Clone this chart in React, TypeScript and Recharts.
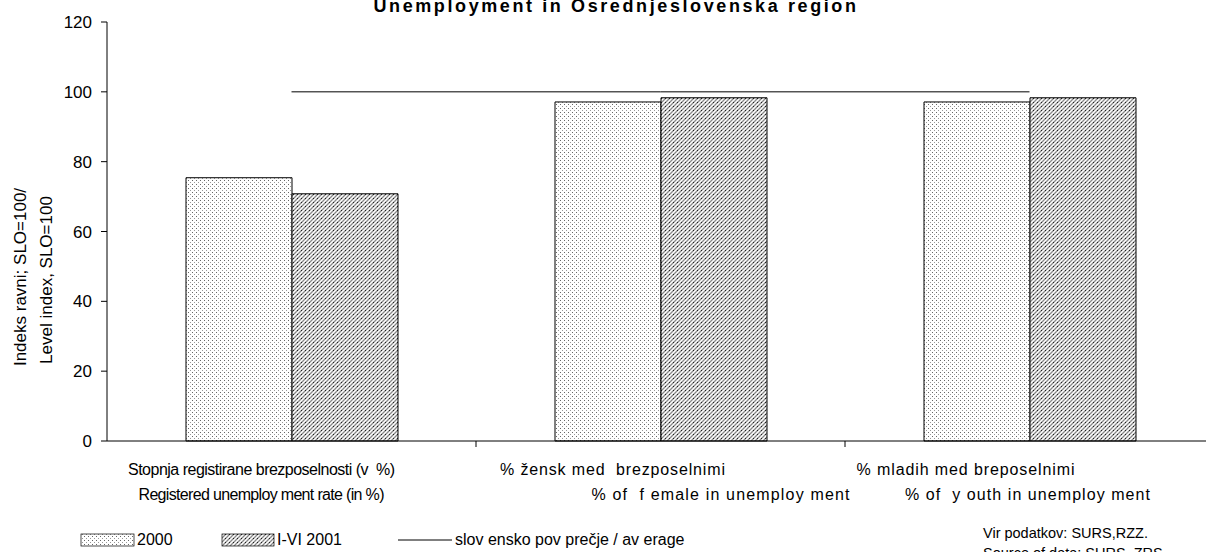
import { ComposedChart, Bar, Line, XAxis, YAxis } from 'recharts';

const categories = ['reg', 'female', 'youth'];
const labelLine1 = [
  'Stopnja registirane brezposelnosti (v  %)',
  '% žensk med  brezposelnimi',
  '% mladih med breposelnimi',
];
const labelLine2 = [
  'Registered unemploy ment rate (in %)',
  '% of  f emale in unemploy ment',
  '% of  y outh in unemploy ment',
];
const values2000 = [75.4, 97.1, 97.1];
const values2001 = [70.8, 98.3, 98.3];
const average = [100, 100, 100];
const yTicks = [0, 20, 40, 60, 80, 100, 120];

const data = categories.map((c, i) => ({
  name: c,
  y2000: values2000[i],
  y2001: values2001[i],
  avg: average[i],
}));

const FONT = '"Liberation Sans", Arial, sans-serif';
const CHART_W = 1240;
const PLOT_LEFT = 107;
const PLOT_RIGHT = 26;
const BAND = (CHART_W - PLOT_LEFT - PLOT_RIGHT) / categories.length;

// Excel set the two label lines at different offsets and spacings
const line1Dx = [-30, -48, -64];
const line2Dx = [-30, 60, -2];
const line1Len = [267, 225, 218];
const line2Len = [246, 258, 245];

function CategoryTick(props: any) {
  const { x, y, payload, index } = props;
  const i = payload?.index ?? index;
  return (
    <g>
      {i > 0 && <line x1={x - BAND / 2} x2={x - BAND / 2} y1={y} y2={y + 6} stroke="#000" />}
      <text
        x={x + line1Dx[i] - line1Len[i] / 2}
        y={y + 34}
        textLength={line1Len[i]}
        lengthAdjust="spacing"
        fontSize={16}
        fontFamily={FONT}
        fill="#000"
        style={{ whiteSpace: 'pre' }}
      >
        {labelLine1[i]}
      </text>
      <text
        x={x + line2Dx[i] - line2Len[i] / 2}
        y={y + 59}
        textLength={line2Len[i]}
        lengthAdjust="spacing"
        fontSize={16}
        fontFamily={FONT}
        fill="#000"
        style={{ whiteSpace: 'pre' }}
      >
        {labelLine2[i]}
      </text>
    </g>
  );
}

function Patterns() {
  return (
    <defs>
      <pattern id="dots2000" width="4" height="4" patternUnits="userSpaceOnUse">
        <rect width="4" height="4" fill="#fff" />
        <rect x="0" y="0" width="1" height="1" fill="#666" />
        <rect x="2" y="2" width="1" height="1" fill="#999" />
      </pattern>
      <pattern id="hatch2001" width="4" height="4" patternUnits="userSpaceOnUse">
        <rect width="4" height="4" fill="#fff" />
        <path d="M-1,1 l2,-2 M0,4 l4,-4 M3,5 l2,-2" stroke="#888" strokeWidth="1.3" />
        <rect x="1" y="2" width="1" height="1" fill="#222" />
      </pattern>
    </defs>
  );
}

export default function App() {
  return (
    <div
      style={{
        position: 'fixed',
        left: 0,
        top: 0,
        width: 1206,
        height: 552,
        overflow: 'hidden',
        background: '#fff',
        fontFamily: FONT,
      }}
    >
      <ComposedChart
        width={CHART_W}
        height={552}
        data={data}
        margin={{ top: 22, right: PLOT_RIGHT, bottom: 0, left: 0 }}
        barGap={0}
      >
        <Patterns />
        <XAxis
          dataKey="name"
          height={111}
          axisLine={{ stroke: '#000' }}
          tickLine={false}
          tickSize={0}
          tickMargin={0}
          tick={<CategoryTick />}
          interval={0}
        />
        <YAxis
          width={PLOT_LEFT}
          domain={[0, 120]}
          ticks={yTicks}
          axisLine={{ stroke: '#000' }}
          tickLine={{ stroke: '#000' }}
          tickSize={6}
          tickMargin={9}
          tick={{ fill: '#000', fontSize: 17, fontFamily: FONT }}
        />
        <Bar dataKey="y2000" barSize={106} fill="url(#dots2000)" stroke="#000" strokeWidth={1} isAnimationActive={false} />
        <Bar dataKey="y2001" barSize={106} fill="url(#hatch2001)" stroke="#000" strokeWidth={1} isAnimationActive={false} />
        <Line dataKey="avg" type="linear" stroke="#000" strokeWidth={1} dot={false} isAnimationActive={false} />
      </ComposedChart>

      <svg
        width={1206}
        height={552}
        style={{ position: 'absolute', left: 0, top: 0, pointerEvents: 'none' }}
      >
        <text x={616} y={12} textAnchor="middle" fontSize={18} fontWeight="bold" letterSpacing={2.6} fontFamily={FONT}>
          Unemployment in Osrednjeslovenska region
        </text>
        <text transform="translate(20,277) rotate(-90)" textAnchor="middle" dominantBaseline="central" fontSize={17} fontFamily={FONT}>
          Indeks ravni; SLO=100/
        </text>
        <text transform="translate(46,280) rotate(-90)" textAnchor="middle" dominantBaseline="central" fontSize={17} fontFamily={FONT}>
          Level index, SLO=100
        </text>

        <rect x={81} y={534} width={53} height={12} fill="url(#dots2000)" stroke="#000" strokeWidth={0.7} />
        <text x={137} y={545} fontSize={16} fontFamily={FONT}>2000</text>
        <rect x={222} y={534} width={52} height={12} fill="url(#hatch2001)" stroke="#000" strokeWidth={0.7} />
        <text x={277} y={545} fontSize={16} fontFamily={FONT}>I-VI 2001</text>
        <line x1={398} x2={452} y1={540} y2={540} stroke="#000" />
        <text x={455} y={545} fontSize={16} fontFamily={FONT}>slov ensko pov prečje / av erage</text>

        <text x={983} y={538} fontSize={14.5} fontFamily={FONT}>Vir podatkov: SURS,RZZ.</text>
        <text x={983} y={558} fontSize={14.5} fontFamily={FONT}>Source of data: SURS, ZRS</text>
      </svg>
    </div>
  );
}
